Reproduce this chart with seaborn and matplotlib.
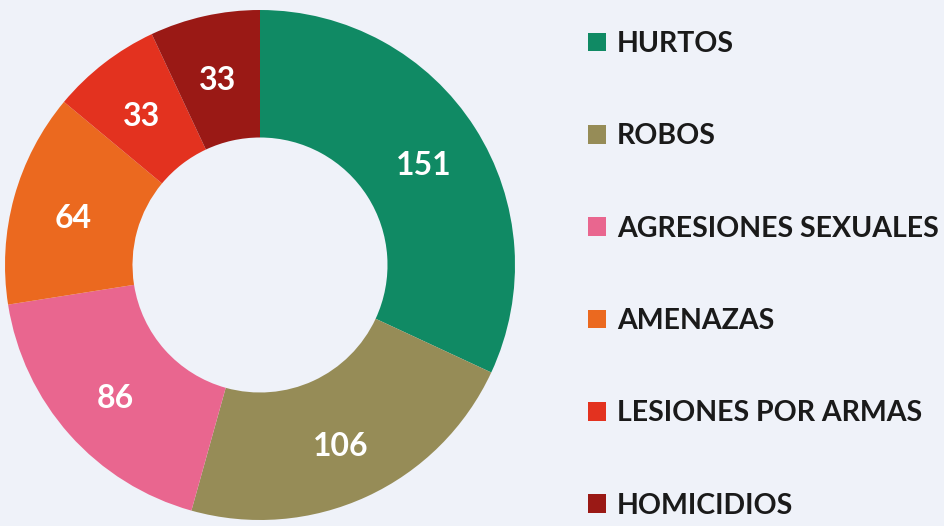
import matplotlib
matplotlib.use('Agg')
import matplotlib.pyplot as plt
import seaborn as sns
import numpy as np

categories = ['HURTOS', 'ROBOS', 'AGRESIONES SEXUALES', 'AMENAZAS',
              'LESIONES POR ARMAS', 'HOMICIDIOS']
values = [151, 106, 86, 64, 33, 33]
colors = ['#108a64', '#968c57', '#e9668f', '#eb691f', '#e3321f', '#9a1915']

bg = '#eff2f9'

sns.set_theme(style='white')
plt.rcParams['font.family'] = ['Lato', 'DejaVu Sans']

palette = sns.color_palette(colors)

fig = plt.figure(figsize=(9.45, 5.26), dpi=100, facecolor=bg)
ax = fig.add_axes([5/945, 6/526, 510/945, 510/526])
ax.set_facecolor(bg)

wedges, texts = ax.pie(values, colors=palette, startangle=90, counterclock=False,
                       radius=1.0, wedgeprops=dict(width=0.5, edgecolor='none'))

# value labels in the middle of the ring
for w, v in zip(wedges, values):
    ang = np.deg2rad((w.theta1 + w.theta2) / 2)
    r = 0.76
    ax.text(r * np.cos(ang), r * np.sin(ang) - 0.02, str(v), ha='center', va='center',
            color='white', fontsize=23, fontweight='bold')

ax.set_xlim(-1, 1)
ax.set_ylim(-1, 1)
ax.set_aspect('equal')
ax.axis('off')

leg = fig.legend(wedges, categories, loc='upper left',
                 bbox_to_anchor=(588/945, 1 - 31/526), frameon=False,
                 prop=dict(weight='bold', size=20.5),
                 handlelength=0.63, handleheight=0.63, handletextpad=0.38,
                 labelspacing=2.33, borderpad=0, borderaxespad=0)
for t in leg.get_texts():
    t.set_color('#1a1a1a')

fig.savefig('out.png', dpi=100, facecolor=bg)
